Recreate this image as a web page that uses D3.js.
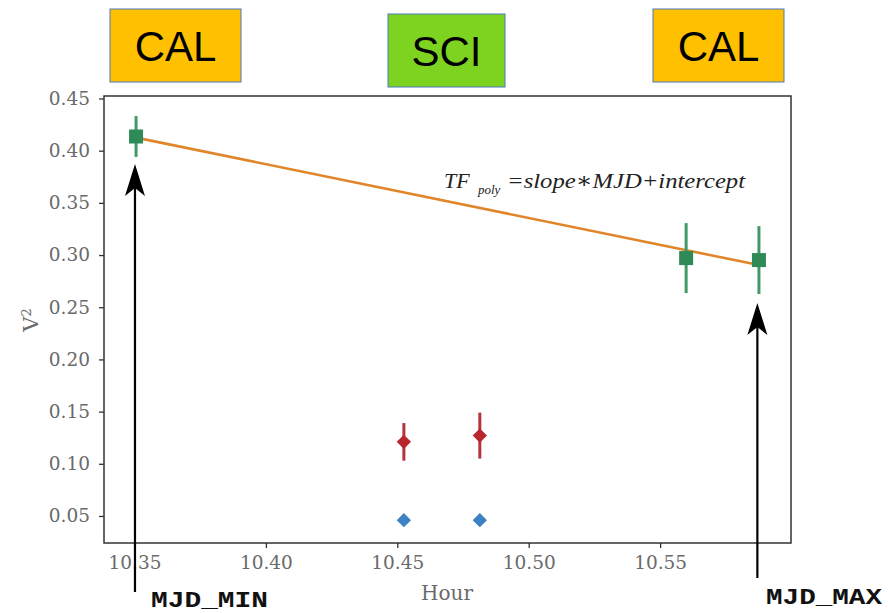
<!DOCTYPE html>
<html><head><meta charset="utf-8">
<script src="https://cdn.jsdelivr.net/npm/d3@7"></script>
<style>html,body{margin:0;padding:0;background:#fff;}svg{display:block;}</style>
</head><body>
<svg id="c" width="888" height="613"></svg>
<script>
// Data
const calHours = [10.3506, 10.5599, 10.5876];
const calV2 = [0.4136, 0.2971, 0.2952];
const calErr = [0.0196, 0.0335, 0.0325];
const sciHours = [10.4525, 10.4814];
const sciV2 = [0.121, 0.127];
const sciErr = [0.018, 0.022];
const tfV2 = [0.046, 0.046];
const fitHours = [10.3506, 10.5876];
const fitV2 = [0.4125, 0.2904];
const xTicks = [10.35, 10.40, 10.45, 10.50, 10.55];
const yTicks = [0.05, 0.10, 0.15, 0.20, 0.25, 0.30, 0.35, 0.40, 0.45];
const boxLabels = ["CAL", "SCI", "CAL"];
const arrowHours = [10.3500, 10.5870];
const arrowLabels = ["MJD_MIN", "MJD_MAX"];

const svg = d3.select("#c");
const L = 104, R = 791, T = 96, B = 543;
const x = d3.scaleLinear().domain([10.3384, 10.5998]).range([L, R]);
const y = d3.scaleLinear().domain([0.0241, 0.4524]).range([B, T]);

const serif = "'DejaVu Serif','Liberation Serif',serif";
const tickCol = "#6a6a6a";

// frame
svg.append("rect").attr("x", L).attr("y", T).attr("width", R - L).attr("height", B - T)
  .attr("fill", "none").attr("stroke", "#333").attr("stroke-width", 1.5);

// axes
const xa = svg.append("g").attr("transform", `translate(0,${B})`)
  .call(d3.axisBottom(x).tickValues(xTicks).tickFormat(d3.format(".2f")).tickSize(5).tickPadding(8));
const ya = svg.append("g").attr("transform", `translate(${L},0)`)
  .call(d3.axisLeft(y).tickValues(yTicks).tickFormat(d3.format(".2f")).tickSize(5).tickPadding(9));
[xa, ya].forEach(a => {
  a.select(".domain").remove();
  a.selectAll("line").attr("stroke", "#333").attr("stroke-width", 1.3);
  a.selectAll("text").attr("font-family", serif).attr("font-size", 18.5).attr("fill", tickCol);
});

svg.append("text").attr("x", 447).attr("y", 600).attr("text-anchor", "middle")
  .attr("font-family", serif).attr("font-size", 20).attr("fill", tickCol).text("Hour");
svg.append("text").attr("transform", "translate(38,320) rotate(-90)").attr("text-anchor", "middle")
  .attr("font-family", serif).attr("font-size", 21).attr("fill", tickCol)
  .html("V<tspan baseline-shift='super' font-size='13'>2</tspan>");

// fit line
const fit = fitHours.map((h, i) => [x(h), y(fitV2[i])]);
svg.append("path").attr("d", d3.line()(fit)).attr("stroke", "#e0862a").attr("stroke-width", 2.6).attr("fill", "none");

// calibrators
const green = "#2e8b57";
calHours.forEach((h, i) => {
  svg.append("line").attr("x1", x(h)).attr("x2", x(h)).attr("y1", y(calV2[i] - calErr[i])).attr("y2", y(calV2[i] + calErr[i]))
    .attr("stroke", "#3f9a68").attr("stroke-width", 3);
  svg.append("rect").attr("x", x(h) - 7).attr("y", y(calV2[i]) - 7).attr("width", 14).attr("height", 14).attr("fill", green);
});

// science
const sym = d3.symbol().type(d3.symbolDiamond2);
sciHours.forEach((h, i) => {
  svg.append("line").attr("x1", x(h)).attr("x2", x(h)).attr("y1", y(sciV2[i] - sciErr[i])).attr("y2", y(sciV2[i] + sciErr[i]))
    .attr("stroke", "#b5333a").attr("stroke-width", 3);
  svg.append("path").attr("d", sym.size(130)()).attr("transform", `translate(${x(h)},${y(sciV2[i])})`).attr("fill", "#b8262e");
  svg.append("path").attr("d", sym.size(130)()).attr("transform", `translate(${x(h)},${y(tfV2[i])})`).attr("fill", "#3d82c4");
});

// formula
const fserif = "'Liberation Serif','DejaVu Serif',serif";
const g = svg.append("g").attr("font-family", fserif).attr("font-style", "italic").attr("fill", "#222");
g.append("text").attr("x", 444).attr("y", 188).attr("font-size", 22).text("TF");
g.append("text").attr("x", 478).attr("y", 194).attr("font-size", 13).text("poly");
g.append("text").attr("x", 507).attr("y", 188).attr("font-size", 22)
  .attr("textLength", 238).attr("lengthAdjust", "spacingAndGlyphs").text("=slope\u2217MJD+intercept");

// arrows
const arrowTop = [164, 303], arrowBot = [592, 578];
arrowHours.forEach((h, i) => {
  const ax = x(h) + (i === 0 ? 0.5 : 0);
  svg.append("line").attr("x1", ax).attr("x2", ax).attr("y1", arrowTop[i] + 20).attr("y2", arrowBot[i])
    .attr("stroke", "#000").attr("stroke-width", 2.2);
  svg.append("path").attr("d", `M${ax},${arrowTop[i]} L${ax - 10},${arrowTop[i] + 32} L${ax},${arrowTop[i] + 24} L${ax + 10},${arrowTop[i] + 32} Z`)
    .attr("fill", "#000");
});
const mono = "'Liberation Mono','DejaVu Sans Mono',monospace";
svg.append("text").attr("x", 151).attr("y", 607).attr("font-family", mono).attr("font-weight", "bold")
  .attr("font-size", 22).attr("textLength", 117).attr("lengthAdjust", "spacingAndGlyphs")
  .attr("fill", "#111").text(arrowLabels[0]);
svg.append("text").attr("x", 766).attr("y", 604).attr("font-family", mono).attr("font-weight", "bold")
  .attr("font-size", 22).attr("textLength", 116).attr("lengthAdjust", "spacingAndGlyphs")
  .attr("fill", "#111").text(arrowLabels[1]);

// boxes
const boxes = [
  {x: 110, y: 9, w: 131, h: 73, fill: "#ffc000"},
  {x: 388, y: 14, w: 117, h: 73, fill: "#7ed321"},
  {x: 653, y: 9, w: 131, h: 73, fill: "#ffc000"}
];
boxes.forEach((b, i) => {
  svg.append("rect").attr("x", b.x).attr("y", b.y).attr("width", b.w).attr("height", b.h)
    .attr("fill", b.fill).attr("stroke", "#4a78c0").attr("stroke-width", 1);
  svg.append("text").attr("x", b.x + b.w / 2).attr("y", b.y + b.h / 2 + 15).attr("text-anchor", "middle")
    .attr("font-family", "'Liberation Sans',Arial,sans-serif").attr("font-size", 42).attr("fill", "#000").text(boxLabels[i]);
});
</script>
</body></html>
